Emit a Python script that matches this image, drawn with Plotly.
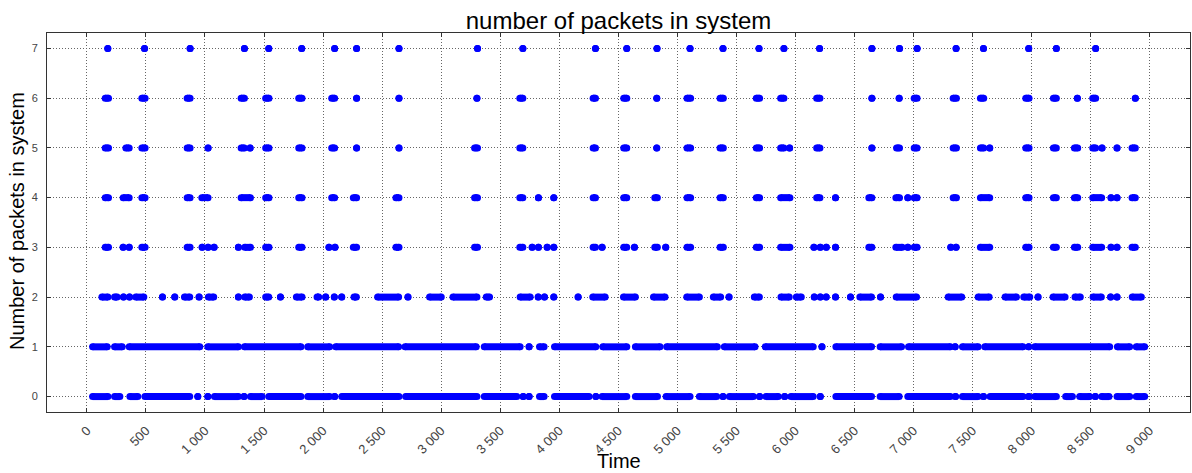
import plotly.graph_objects as go

# Each run is [start_time, end_time] of consecutive samples at a given level
runs_7 = [[177, 177], [488, 488], [874, 874], [1334, 1334], [1540, 1540], [1819, 1819],
          [2098, 2098], [2284, 2284], [2643, 2643], [3308, 3308], [3692, 3692], [4307, 4307],
          [4572, 4572], [4828, 4828], [5108, 5108], [5387, 5387], [5692, 5692], [5903, 5903],
          [6205, 6205], [6648, 6648], [6882, 6882], [7031, 7031], [7361, 7361], [7593, 7593],
          [7976, 7976], [8210, 8210], [8543, 8543]]

runs_6 = [[155, 183], [465, 493], [849, 874], [1306, 1334], [1514, 1542], [1794, 1822],
          [2073, 2098], [2284, 2284], [2643, 2643], [3303, 3303], [3666, 3692], [4287, 4307],
          [4546, 4572], [4826, 4826], [5082, 5113], [5362, 5390], [5669, 5697], [5875, 5903],
          [6180, 6208], [6648, 6648], [6879, 6879], [7006, 7031], [7336, 7364], [7567, 7595],
          [7951, 7979], [8185, 8210], [8388, 8388], [8518, 8543], [8879, 8879]]

runs_5 = [[155, 183], [330, 358], [465, 493], [849, 874], [1026, 1026], [1306, 1334],
          [1382, 1382], [1514, 1542], [1794, 1822], [2073, 2098], [2284, 2284], [2643, 2643],
          [3283, 3308], [3666, 3692], [4287, 4307], [4546, 4572], [4826, 4826], [5082, 5113],
          [5362, 5390], [5669, 5697], [5875, 5903], [5951, 5951], [6180, 6208], [6648, 6648],
          [6857, 6882], [7006, 7031], [7336, 7364], [7567, 7595], [7646, 7646], [7951, 7979],
          [8185, 8210], [8363, 8391], [8518, 8543], [8597, 8597], [8724, 8724], [8851, 8879]]

runs_4 = [[155, 183], [307, 358], [465, 493], [849, 874], [973, 1026], [1306, 1385],
          [1514, 1542], [1794, 1822], [2073, 2098], [2256, 2284], [2617, 2643], [3283, 3308],
          [3666, 3692], [3824, 3824], [3954, 3954], [4287, 4307], [4546, 4572], [4809, 4831],
          [5082, 5113], [5362, 5390], [5669, 5697], [5875, 5954], [6180, 6208], [6340, 6340],
          [6622, 6648], [6851, 6882], [6952, 6952], [7006, 7031], [7336, 7364], [7567, 7646],
          [7951, 7979], [8185, 8210], [8363, 8391], [8518, 8594], [8673, 8673], [8724, 8724],
          [8851, 8879]]

runs_3 = [[155, 183], [307, 307], [358, 358], [465, 493], [849, 874], [976, 976], [1026, 1026],
          [1077, 1077], [1283, 1283], [1337, 1385], [1514, 1542], [1794, 1822], [2050, 2050],
          [2101, 2101], [2256, 2284], [2617, 2643], [3283, 3308], [3666, 3692], [3771, 3771],
          [3824, 3824], [3898, 3898], [3954, 3954], [4287, 4307], [4363, 4363], [4546, 4572],
          [4637, 4637], [4809, 4831], [4902, 4902], [5082, 5113], [5362, 5390], [5669, 5697],
          [5875, 5954], [6157, 6157], [6211, 6211], [6262, 6262], [6340, 6340], [6622, 6648],
          [6851, 6905], [6952, 6952], [7006, 7031], [7316, 7316], [7361, 7361], [7567, 7646],
          [7951, 7979], [8185, 8210], [8363, 8391], [8518, 8594], [8673, 8673], [8724, 8724],
          [8851, 8879]]

runs_2 = [[127, 178], [234, 256], [310, 310], [361, 361], [414, 482], [640, 640], [744, 744],
          [826, 871], [950, 950], [1029, 1074], [1283, 1283], [1337, 1376], [1514, 1540],
          [1639, 1639], [1774, 1822], [1949, 1963], [2022, 2022], [2095, 2095], [2158, 2158],
          [2262, 2282], [2462, 2640], [2719, 2719], [2902, 3001], [3100, 3303], [3382, 3410],
          [3669, 3754], [3822, 3822], [3875, 3875], [3954, 3954], [4160, 4160], [4284, 4389],
          [4544, 4645], [4798, 4896], [5080, 5187], [5305, 5367], [5438, 5438], [5652, 5695],
          [5878, 5948], [6008, 6050], [6160, 6160], [6211, 6211], [6261, 6261], [6340, 6340],
          [6467, 6467], [6546, 6645], [6721, 6721], [6854, 7026], [7294, 7409], [7548, 7641],
          [7776, 7872], [7934, 7985], [8055, 8055], [8182, 8284], [8368, 8413], [8521, 8591],
          [8670, 8670], [8724, 8724], [8853, 8930]]

runs_1 = [[48, 172], [234, 299], [358, 956], [1024, 1283], [1334, 1813], [1870, 2056],
          [2107, 2640], [2694, 3297], [3365, 3669], [3745, 3745], [3833, 3872], [3960, 4310],
          [4369, 4572], [4645, 4854], [4910, 5339], [5398, 5658], [5745, 6151], [6225, 6225],
          [6343, 6645], [6718, 6899], [6958, 7313], [7353, 7353], [7415, 7548], [7604, 7928],
          [7976, 7976], [8027, 8662], [8727, 8831], [8887, 8958]]

runs_0 = [[48, 178], [234, 279], [364, 431], [491, 871], [939, 939], [1024, 1024], [1080, 1283],
          [1331, 1331], [1385, 1483], [1540, 1813], [1870, 2056], [2098, 2098], [2158, 2643],
          [2699, 3303], [3365, 3641], [3695, 3695], [3745, 3745], [3833, 3872], [3960, 4253],
          [4310, 4310], [4363, 4572], [4645, 4832], [4905, 5108], [5187, 5334], [5387, 5387],
          [5441, 5644], [5697, 5697], [5751, 5855], [5909, 5909], [5962, 6151], [6211, 6211],
          [6343, 6645], [6718, 6879], [6952, 7313], [7356, 7356], [7415, 7548], [7593, 7593],
          [7649, 7928], [7976, 7976], [8027, 8210], [8289, 8346], [8408, 8492], [8540, 8540],
          [8594, 8656], [8724, 8831], [8887, 8958]]

levels = [0, 1, 2, 3, 4, 5, 6, 7]
level_runs = [runs_0, runs_1, runs_2, runs_3, runs_4, runs_5, runs_6, runs_7]

x_ticks = list(range(0, 9001, 500))
y_ticks = list(range(0, 8))

xs, ys = [], []
for lvl, runs in zip(levels, level_runs):
    for s, e in runs:
        xs += [s, e, None]
        ys += [lvl, lvl, None]

fig = go.Figure()
fig.add_trace(go.Scatter(
    x=xs, y=ys, mode="lines+markers",
    line=dict(color="#0000ff", width=7),
    marker=dict(color="#0000ff", size=7, line=dict(width=0)),
    showlegend=False, hoverinfo="skip",
))

font_family = "Liberation Sans, Arial, sans-serif"
axis_common = dict(
    showline=True, linecolor="#333333", linewidth=1, mirror="allticks",
    ticks="inside", ticklen=4, tickcolor="#333333",
    showgrid=True, gridcolor="#666666", griddash="1px,2px", gridwidth=1,
    zeroline=False,
)

fig.update_layout(
    width=1192, height=473,
    margin=dict(l=47, r=2, t=33, b=61),
    paper_bgcolor="white", plot_bgcolor="white",
    separators=". ",
    title=dict(text="number of packets in system", x=0.5, xref="paper",
               y=1 - 21 / 473, yref="container", xanchor="center", yanchor="middle",
               font=dict(family=font_family, size=24, color="black")),
    xaxis=dict(range=[-338, 9342], tickvals=x_ticks, tickangle=-45,
               tickformat=",d", separatethousands=True, ticklabelstandoff=5,
               tickfont=dict(family=font_family, size=13, color="#444444"),
               **axis_common),
    yaxis=dict(range=[-0.31, 7.31], tickvals=y_ticks, ticklabelstandoff=6,
               tickfont=dict(family=font_family, size=11, color="#444444"),
               **axis_common),
    annotations=[
        dict(text="Time", xref="paper", yref="paper", x=0.5, y=-(461 - 411.7) / 378.4,
             xanchor="center", yanchor="middle", showarrow=False,
             font=dict(family=font_family, size=20, color="black")),
        dict(text="Number of packets in system", xref="paper", yref="paper",
             x=-(47 - 17) / 1144, y=(411.7 - 221) / 378.4, textangle=-90,
             xanchor="center", yanchor="middle", showarrow=False,
             font=dict(family=font_family, size=20, color="black")),
    ],
)

fig.write_html("out.html")
